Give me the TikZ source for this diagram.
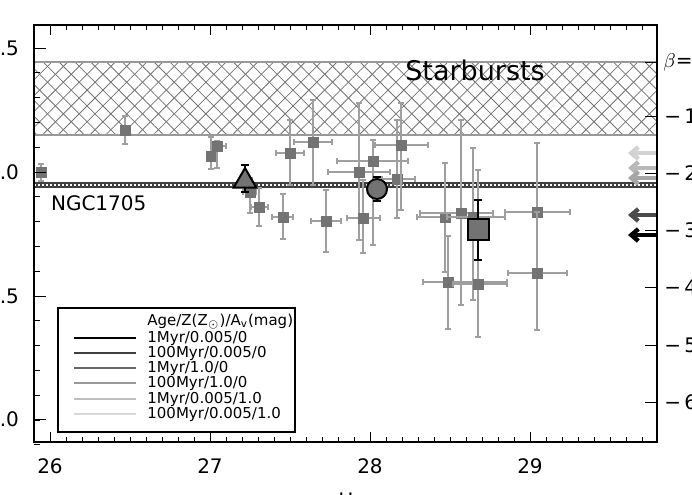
\documentclass[tikz,border=0pt]{standalone}
\usepackage{fontspec}
\setmainfont{DejaVu Sans}
\usetikzlibrary{patterns.meta,shapes.geometric,arrows.meta}
\begin{document}
\begin{tikzpicture}[x=0.5pt,y=-0.5pt,
  ebar/.style={draw=gray!75,line width=0.6pt},
  sq/.style={fill=black!55,draw=none,minimum size=5.5pt,inner sep=0pt},
  tick/.style={line width=0.5pt},
  lab/.style={font=\fontsize{10}{12}\selectfont},
  arr/.style={line width=2.2pt,-{Straight Barb[length=3.5pt,width=6pt]}}]
\useasboundingbox (0,0) rectangle (692,494);
\clip (0,0) rectangle (692,494);
% hatched band
\fill[pattern={Lines[angle=45,distance=5.6pt,line width=0.4pt]},pattern color=gray!90!black] (34,62) rectangle (657,135);
\fill[pattern={Lines[angle=-45,distance=5.6pt,line width=0.4pt]},pattern color=gray!90!black] (34,62) rectangle (657,135);
\draw[gray!80,line width=0.6pt] (34,62)--(657,62) (34,135)--(657,135);
\node[lab,font=\fontsize{13.5}{15}\selectfont,anchor=center] (sb) at (475,70) {Starbursts};
% NGC1705 band
\fill[black!75] (34,182) rectangle (657,188);
\draw[white,line width=0.8pt,dash pattern=on 0.8pt off 1.2pt] (34,185)--(657,185);
\node[lab,anchor=west] (ngc) at (44,203) {NGC1705};
% errorbar macro
\newcommand\dpt[7]{% name x y xl xr yt yb
  \draw[ebar] (#4,#3)--(#5,#3) (#4,#3-3)--(#4,#3+3) (#5,#3-3)--(#5,#3+3);
  \draw[ebar] (#2,#6)--(#2,#7) (#2-3,#6)--(#2+3,#6) (#2-3,#7)--(#2+3,#7);
  \node[sq] (#1) at (#2,#3) {};}
\dpt{a1}{41}{172}{41}{41}{164}{181}
\dpt{a2}{125}{130}{121}{130}{116}{144}
\dpt{a3}{211}{156}{207}{215}{137}{169}
\dpt{a4}{217}{146}{211}{226}{141}{168}
\dpt{a5}{250}{192}{243}{256}{178}{213}
\dpt{a6}{259}{207}{251}{268}{188}{226}
\dpt{a7}{283}{217}{272}{293}{194}{239}
\dpt{a8}{290}{153}{276}{304}{120}{185}
\dpt{a9}{313}{142}{294}{332}{100}{185}
\dpt{a10}{326}{221}{311}{341}{190}{252}
\dpt{a11}{359}{172}{328}{390}{103}{240}
\dpt{a12}{373}{161}{337}{408}{140}{245}
\dpt{a13}{363}{218}{347}{380}{180}{253}
\dpt{a14}{397}{179}{382}{415}{120}{218}
\dpt{a15}{401}{145}{375}{428}{103}{210}
\dpt{a16}{445}{217}{417}{478}{163}{272}
\dpt{a17}{461}{213}{420}{493}{120}{305}
\dpt{a18}{473}{217}{447}{505}{148}{300}
\dpt{a19}{537}{212}{505}{570}{143}{330}
\dpt{a20}{537}{273}{508}{567}{212}{330}
\dpt{a21}{448}{282}{423}{507}{236}{329}
\dpt{a22}{478}{284}{453}{507}{170}{337}
% big symbols
\draw[line width=1.2pt] (245,165)--(245,192) (241,165)--(249,165) (241,192)--(249,192);
\node[draw,line width=1pt,fill=black!55,regular polygon,regular polygon sides=3,minimum size=13pt,inner sep=0pt] (tri) at (245,181) {};
\draw[line width=1.2pt] (377,177)--(377,201) (373,177)--(381,177) (373,201)--(381,201);
\node[draw,line width=1pt,fill=black!55,circle,minimum size=10pt,inner sep=0pt] (cir) at (377,189) {};
\draw[line width=1.2pt] (478,200)--(478,260) (474,200)--(482,200) (474,260)--(482,260);
\node[draw,line width=1pt,fill=black!55,minimum size=10.5pt,inner sep=0pt] (bsq) at (478,229) {};
% arrows
\coordinate (e1) at (657,153); \coordinate (f1) at (628,153);
\coordinate (e2) at (657,168); \coordinate (f2) at (628,168);
\coordinate (e3) at (657,178); \coordinate (f3) at (628,178);
\coordinate (e4) at (657,215); \coordinate (f4) at (628,215);
\coordinate (e5) at (657,235); \coordinate (f5) at (628,235);
\draw[arr,gray!35] (e1)--(f1);
\draw[arr,gray!55] (e2)--(f2);
\draw[arr,gray!70] (e3)--(f3);
\draw[arr,black!70] (e4)--(f4);
\draw[arr,black] (e5)--(f5);
% frame
\draw[line width=0.7pt] (34,25) rectangle (657,442);
% x ticks
\foreach \i in {1,...,38} {\pgfmathsetmacro\xx{34+16*\i}
  \draw[tick] (\xx,442)--(\xx,437) (\xx,25)--(\xx,30);}
\foreach \v/\xx in {26/50,27/210,28/370,29/530} {
  \draw[tick] (\xx,442)--(\xx,432) (\xx,25)--(\xx,35);
  \node[lab] (xl\v) at (\xx,466) {\v};}
% y ticks
\foreach \i in {0,...,16} {\pgfmathsetmacro\yy{48+24.8*\i}
  \draw[tick] (34,\yy)--(40,\yy);}
\foreach \yy in {48,172,296,419} {
  \draw[tick] (34,\yy)--(46,\yy);}
\node[lab,anchor=east] (yl1) at (26,48) {0.5};
\node[lab,anchor=east] (yl2) at (26,172) {0.0};
\node[lab,anchor=east] (yl3) at (26,296) {0.5};
\node[lab,anchor=east] (yl4) at (26,419) {.0};
% right axis
\foreach \yy in {62,116,173,230,287,345,402} {
  \draw[tick] (657,\yy)--(645,\yy);}
\node[lab,anchor=west,inner sep=0pt] (beta) at (663,62) {$\beta$=};
\foreach \b/\yy in {1/116,2/173,3/230,4/287,5/345,6/402} {
  \node[lab,anchor=west,inner sep=0pt] (r\b) at (664,\yy) {−\,\b};}
\node[lab] (mu) at (346,500) {U};
% legend
\draw[line width=0.6pt,fill=white] (58,308) rectangle (295,432);
\node[anchor=west,font=\fontsize{7.5}{9}\selectfont,inner sep=1pt] (lh) at (145,322) {Age/Z(Z$_\odot$)/A$_\mathrm{v}$(mag)};
\foreach \c/\t/\yy [count=\k] in {black/1Myr\slash 0.005\slash 0/338,black!75/100Myr\slash 0.005\slash 0/353,black!60/1Myr\slash 1.0\slash 0/368,gray!80/100Myr\slash 1.0\slash 0/383,gray!50/1Myr\slash 0.005\slash 1.0/399,gray!30/100Myr\slash 0.005\slash 1.0/414} {
  \draw[\c,line width=1.1pt] (74,\yy)--(136,\yy);
  \node[anchor=west,font=\fontsize{7.5}{9}\selectfont,inner sep=1pt] (lg\k) at (145,\yy) {\t};}
\end{tikzpicture}
\end{document}
